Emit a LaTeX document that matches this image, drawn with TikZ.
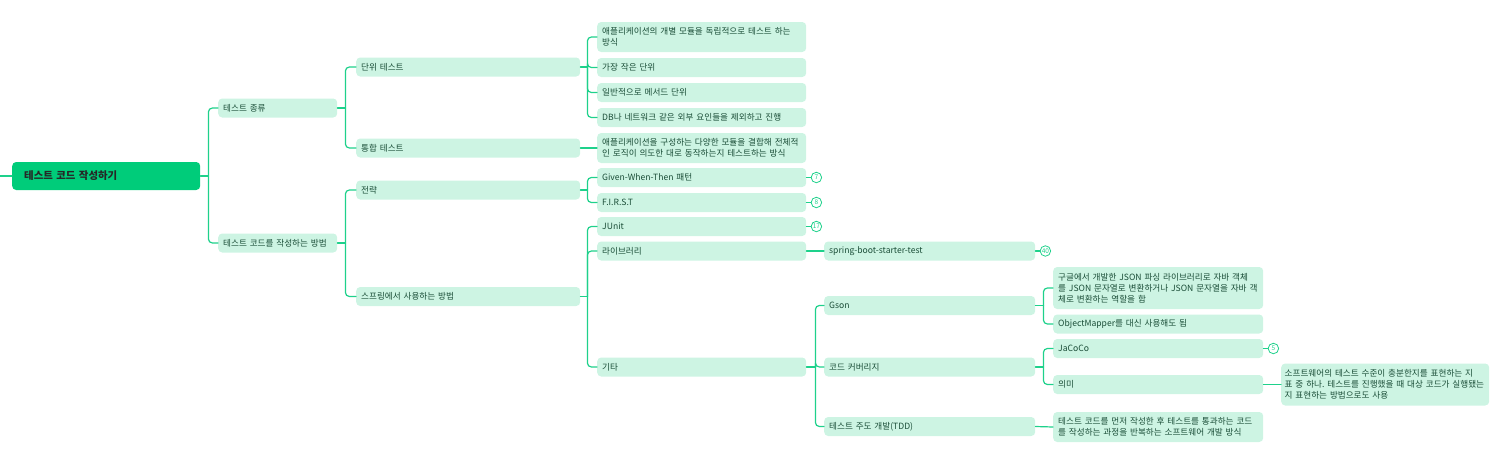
\documentclass[tikz,border=0pt]{standalone}
\usepackage{fontspec}
\setmainfont{Noto Sans CJK KR}
\frenchspacing
\definecolor{linegreen}{HTML}{1ED18B}
\definecolor{rootgreen}{HTML}{00CC7A}
\definecolor{boxgreen}{HTML}{CDF4E3}
\definecolor{textgreen}{HTML}{1A4D37}
\begin{document}
\begin{tikzpicture}[x=1pt,y=-1pt,line cap=round,line join=round,
  link/.style={draw=linegreen,line width=1.2pt,rounded corners=4pt},
  topic/.style={anchor=west,fill=boxgreen,rounded corners=4pt,inner xsep=5pt,inner ysep=2pt,
    minimum height=19pt,align=left,text=textgreen,font=\fontsize{8.6}{10.8}\selectfont},
  badge/.style={circle,draw=linegreen,fill=white,line width=0.8pt,minimum size=10.5pt,inner sep=0pt,
    text=linegreen,font=\fontsize{6.5}{7}\selectfont}]
  \useasboundingbox (0,0) rectangle (1508,474);
  % root
  \coordinate (start) at (0,176);
  \node[anchor=west,fill=rootgreen,rounded corners=4pt,minimum height=28pt,inner xsep=12pt,
    text width=164pt,font=\fontsize{10.4}{12}\selectfont\bfseries,text=black!85] (root) at (12,176) {테스트 코드 작성하기};
  % level 1
  \node[topic,text width=109pt] (kinds) at (218,108) {테스트 종류};
  \node[topic,text width=109pt] (howto) at (218,243) {테스트 코드를 작성하는 방법};
  % level 2
  \node[topic,text width=214pt] (unit) at (356,67) {단위 테스트};
  \node[topic,text width=214pt] (integ) at (356,148) {통합 테스트};
  \node[topic,text width=214pt] (strategy) at (356,190) {전략};
  \node[topic,text width=214pt] (spring) at (356,296.5) {스프링에서 사용하는 방법};
  % level 3
  \node[topic,text width=199pt,minimum height=30pt] (unitA) at (597,37) {애플리케이션의 개별 모듈을 독립적으로 테스트 하는\\방식};
  \node[topic,text width=199pt] (unitB) at (597,67.5) {가장 작은 단위};
  \node[topic,text width=199pt] (unitC) at (597,92.5) {일반적으로 메서드 단위};
  \node[topic,text width=199pt] (unitD) at (597,117.5) {DB나 네트워크 같은 외부 요인들을 제외하고 진행};
  \node[topic,text width=199pt,minimum height=30pt] (integA) at (597,148) {애플리케이션을 구성하는 다양한 모듈을 결합해 전체적\\인 로직이 의도한 대로 동작하는지 테스트하는 방식};
  \node[topic,text width=199pt] (gwt) at (597,177.5) {Given-When-Then 패턴};
  \node[topic,text width=199pt] (first) at (597,202.5) {F.I.R.S.T};
  \node[topic,text width=199pt] (junit) at (597,226.5) {JUnit};
  \node[topic,text width=199pt] (lib) at (597,251) {라이브러리};
  \node[topic,text width=199pt] (etc) at (597,367) {기타};
  % level 4
  \node[topic,text width=201pt] (sbst) at (824,251) {spring-boot-starter-test};
  \node[topic,text width=201pt] (gson) at (824,305.5) {Gson};
  \node[topic,text width=201pt] (cover) at (824,367) {코드 커버리지};
  \node[topic,text width=201pt] (tdd) at (824,426.5) {테스트 주도 개발(TDD)};
  % level 5
  \node[topic,text width=200pt,minimum height=42pt] (gsonA) at (1053,288) {구글에서 개발한 JSON 파싱 라이브러리로 자바 객체\\를 JSON 문자열로 변환하거나 JSON 문자열을 자바 객\\체로 변환하는 역할을 함};
  \node[topic,text width=200pt] (gsonB) at (1053,324) {ObjectMapper를 대신 사용해도 됨};
  \node[topic,text width=200pt] (jacoco) at (1053,348.5) {JaCoCo};
  \node[topic,text width=200pt] (meaning) at (1053,384.5) {의미};
  \node[topic,text width=200pt,minimum height=30pt] (tddA) at (1053,427) {테스트 코드를 먼저 작성한 후 테스트를 통과하는 코드\\를 작성하는 과정을 반복하는 소프트웨어 개발 방식};
  % level 6
  \node[topic,text width=201pt,inner xsep=3.5pt,minimum height=42pt] (meaningA) at (1281,384.5) {소프트웨어의 테스트 수준이 충분한지를 표현하는 지\\표 중 하나. 테스트를 진행했을 때 대상 코드가 실행됐는\\지 표현하는 방법으로도 사용};
  % badges
  \node[badge] (n7) at ([xshift=10pt]gwt.east) {7};
  \node[badge] (n8) at ([xshift=10pt]first.east) {8};
  \node[badge] (n17) at ([xshift=10pt]junit.east) {17};
  \node[badge] (n40) at ([xshift=10pt]sbst.east) {40};
  \node[badge] (n5) at ([xshift=10pt]jacoco.east) {5};
  % connectors
  \draw[link] (start) -- (root.west);
  \draw[link] (root.east) -- ++(8,0) coordinate (rootT);
  \foreach \c in {kinds,howto} \draw[link] (rootT) |- (\c.west);
  \draw[link] (kinds.east) -- ++(8,0) coordinate (kindsT);
  \foreach \c in {unit,integ} \draw[link] (kindsT) |- (\c.west);
  \draw[link] (howto.east) -- ++(8,0) coordinate (howtoT);
  \foreach \c in {strategy,spring} \draw[link] (howtoT) |- (\c.west);
  \draw[link] (unit.east) -- ++(7,0) coordinate (unitT);
  \foreach \c in {unitA,unitB,unitC,unitD} \draw[link] (unitT) |- (\c.west);
  \draw[link] (integ.east) -- (integA.west);
  \draw[link] (strategy.east) -- ++(7,0) coordinate (strategyT);
  \foreach \c in {gwt,first} \draw[link] (strategyT) |- (\c.west);
  \draw[link] (spring.east) -- ++(7,0) coordinate (springT);
  \foreach \c in {junit,lib,etc} \draw[link] (springT) |- (\c.west);
  \draw[link] (lib.east) -- (sbst.west);
  \draw[link] (etc.east) -- ++(9,0) coordinate (etcT);
  \foreach \c in {gson,cover,tdd} \draw[link] (etcT) |- (\c.west);
  \draw[link] (gson.east) -- ++(8,0) coordinate (gsonT);
  \foreach \c in {gsonA,gsonB} \draw[link] (gsonT) |- (\c.west);
  \draw[link] (cover.east) -- ++(8,0) coordinate (coverT);
  \foreach \c in {jacoco,meaning} \draw[link] (coverT) |- (\c.west);
  \draw[link] (tdd.east) -- (tddA.west);
  \draw[link] (meaning.east) -- (meaningA.west);
  \foreach \b/\n in {gwt/n7,first/n8,junit/n17,sbst/n40,jacoco/n5} \draw[link] (\b.east) -- (\n);
\end{tikzpicture}
\end{document}
